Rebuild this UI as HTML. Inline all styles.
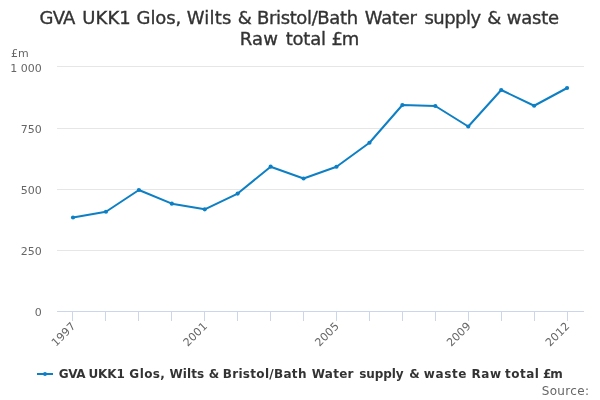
<!DOCTYPE html>
<html><head><meta charset="utf-8"><title>chart</title>
<style>
html,body{margin:0;padding:0;background:#fff;}
svg{display:block;will-change:transform;font-family:"DejaVu Sans","Liberation Sans",sans-serif;}
</style></head>
<body>
<svg width="600" height="400" viewBox="0 0 600 400">
<rect x="0" y="0" width="600" height="400" fill="#ffffff"/>
<g class="grid">
<path d="M 57 66.5 L 584 66.5" stroke="#e6e6e6" stroke-width="1" fill="none"/>
<path d="M 57 128.5 L 584 128.5" stroke="#e6e6e6" stroke-width="1" fill="none"/>
<path d="M 57 189.5 L 584 189.5" stroke="#e6e6e6" stroke-width="1" fill="none"/>
<path d="M 57 250.5 L 584 250.5" stroke="#e6e6e6" stroke-width="1" fill="none"/>
</g>
<path d="M 57 311.5 L 584 311.5" stroke="#ccd6eb" stroke-width="1" fill="none"/>
<path d="M 72.5 311.5 L 72.5 321" stroke="#ccd6eb" stroke-width="1" fill="none"/>
<path d="M 105.5 311.5 L 105.5 321" stroke="#ccd6eb" stroke-width="1" fill="none"/>
<path d="M 138.5 311.5 L 138.5 321" stroke="#ccd6eb" stroke-width="1" fill="none"/>
<path d="M 171.5 311.5 L 171.5 321" stroke="#ccd6eb" stroke-width="1" fill="none"/>
<path d="M 204.5 311.5 L 204.5 321" stroke="#ccd6eb" stroke-width="1" fill="none"/>
<path d="M 237.5 311.5 L 237.5 321" stroke="#ccd6eb" stroke-width="1" fill="none"/>
<path d="M 270.5 311.5 L 270.5 321" stroke="#ccd6eb" stroke-width="1" fill="none"/>
<path d="M 303.5 311.5 L 303.5 321" stroke="#ccd6eb" stroke-width="1" fill="none"/>
<path d="M 336.5 311.5 L 336.5 321" stroke="#ccd6eb" stroke-width="1" fill="none"/>
<path d="M 369.5 311.5 L 369.5 321" stroke="#ccd6eb" stroke-width="1" fill="none"/>
<path d="M 402.5 311.5 L 402.5 321" stroke="#ccd6eb" stroke-width="1" fill="none"/>
<path d="M 435.5 311.5 L 435.5 321" stroke="#ccd6eb" stroke-width="1" fill="none"/>
<path d="M 468.5 311.5 L 468.5 321" stroke="#ccd6eb" stroke-width="1" fill="none"/>
<path d="M 501.5 311.5 L 501.5 321" stroke="#ccd6eb" stroke-width="1" fill="none"/>
<path d="M 534.5 311.5 L 534.5 321" stroke="#ccd6eb" stroke-width="1" fill="none"/>
<path d="M 567.5 311.5 L 567.5 321" stroke="#ccd6eb" stroke-width="1" fill="none"/>
<path d="M 73.02 217.5 L 105.96 211.75 L 138.89 190 L 171.83 203.7 L 204.77 209.3 L 237.71 193.6 L 270.64 166.7 L 303.58 178.5 L 336.52 166.75 L 369.46 142.75 L 402.39 105.0 L 435.33 106.0 L 468.27 126.5 L 501.21 90 L 534.14 105.75 L 567.08 88" stroke="#0d7fc4" stroke-width="2" fill="none" stroke-linejoin="round" stroke-linecap="round"/>
<circle cx="73.02" cy="217.5" r="2.1" fill="#0d7fc4"/>
<circle cx="105.96" cy="211.75" r="2.1" fill="#0d7fc4"/>
<circle cx="138.89" cy="190" r="2.1" fill="#0d7fc4"/>
<circle cx="171.83" cy="203.7" r="2.1" fill="#0d7fc4"/>
<circle cx="204.77" cy="209.3" r="2.1" fill="#0d7fc4"/>
<circle cx="237.71" cy="193.6" r="2.1" fill="#0d7fc4"/>
<circle cx="270.64" cy="166.7" r="2.1" fill="#0d7fc4"/>
<circle cx="303.58" cy="178.5" r="2.1" fill="#0d7fc4"/>
<circle cx="336.52" cy="166.75" r="2.1" fill="#0d7fc4"/>
<circle cx="369.46" cy="142.75" r="2.1" fill="#0d7fc4"/>
<circle cx="402.39" cy="105.0" r="2.1" fill="#0d7fc4"/>
<circle cx="435.33" cy="106.0" r="2.1" fill="#0d7fc4"/>
<circle cx="468.27" cy="126.5" r="2.1" fill="#0d7fc4"/>
<circle cx="501.21" cy="90" r="2.1" fill="#0d7fc4"/>
<circle cx="534.14" cy="105.75" r="2.1" fill="#0d7fc4"/>
<circle cx="567.08" cy="88" r="2.1" fill="#0d7fc4"/>
<text y="24.2" font-size="18px" fill="#333333" stroke="#333333" stroke-width="0.35" xml:space="preserve"><tspan x="39.50" textLength="35.90">GVA</tspan> <tspan x="82.20" textLength="48.54">UKK1</tspan> <tspan x="136.50" textLength="44.84">Glos,</tspan> <tspan x="186.79" textLength="44.55">Wilts</tspan> <tspan x="237.75" textLength="13.16">&amp;</tspan> <tspan x="256.99" textLength="101.12">Bristol/Bath</tspan> <tspan x="364.79" textLength="52.03">Water</tspan> <tspan x="424.43" textLength="56.61">supply</tspan> <tspan x="487.25" textLength="13.16">&amp;</tspan> <tspan x="506.63" textLength="52.54">waste</tspan></text>
<text y="45.1" font-size="18px" fill="#333333" stroke="#333333" stroke-width="0.35" xml:space="preserve"><tspan x="239.64" textLength="38.34">Raw</tspan> <tspan x="285.80" textLength="40.17">total</tspan> <tspan x="331.40" textLength="28.00">£m</tspan></text>
<text x="11.1" y="56.6" font-size="11px" fill="#666666">£m</text>
<g font-size="11px" fill="#666666">
<text x="41.8" y="71.6" text-anchor="end">1 000</text>
<text x="41.8" y="133.3" text-anchor="end">750</text>
<text x="41.8" y="193.9" text-anchor="end">500</text>
<text x="41.8" y="254.9" text-anchor="end">250</text>
<text x="41.8" y="315.9" text-anchor="end">0</text>
</g>
<g font-size="11px" fill="#666666">
<text x="76.17" y="326.9" text-anchor="end" textLength="28.6" transform="rotate(-45 76.17 326.9)">1997</text>
<text x="207.92" y="326.9" text-anchor="end" textLength="28.6" transform="rotate(-45 207.92 326.9)">2001</text>
<text x="339.67" y="326.9" text-anchor="end" textLength="28.6" transform="rotate(-45 339.67 326.9)">2005</text>
<text x="471.42" y="326.9" text-anchor="end" textLength="28.6" transform="rotate(-45 471.42 326.9)">2009</text>
<text x="570.23" y="326.9" text-anchor="end" textLength="28.6" transform="rotate(-45 570.23 326.9)">2012</text>
</g>
<path d="M 37 374 L 53 374" stroke="#0d7fc4" stroke-width="2" fill="none"/>
<circle cx="45" cy="374" r="2" fill="#0d7fc4"/>
<text y="378" font-size="12px" font-weight="bold" fill="#333333" xml:space="preserve"><tspan x="58.87" textLength="26.62">GVA</tspan> <tspan x="88.40" textLength="36.55">UKK1</tspan> <tspan x="129.37" textLength="35.55">Glos,</tspan> <tspan x="169.50" textLength="34.59">Wilts</tspan> <tspan x="208.72" textLength="11.75">&amp;</tspan> <tspan x="222.75" textLength="83.71">Bristol/Bath</tspan> <tspan x="311.75" textLength="41.70">Water</tspan> <tspan x="359.27" textLength="44.35">supply</tspan> <tspan x="409.22" textLength="11.25">&amp;</tspan> <tspan x="423.71" textLength="42.74">waste</tspan> <tspan x="471.50" textLength="29.69">Raw</tspan> <tspan x="505.00" textLength="33.94">total</tspan> <tspan x="543.02" textLength="19.83">£m</tspan></text>
<text x="541.7" y="395" font-size="12px" fill="#666666" textLength="47.3">Source:</text>
</svg>
</body></html>
